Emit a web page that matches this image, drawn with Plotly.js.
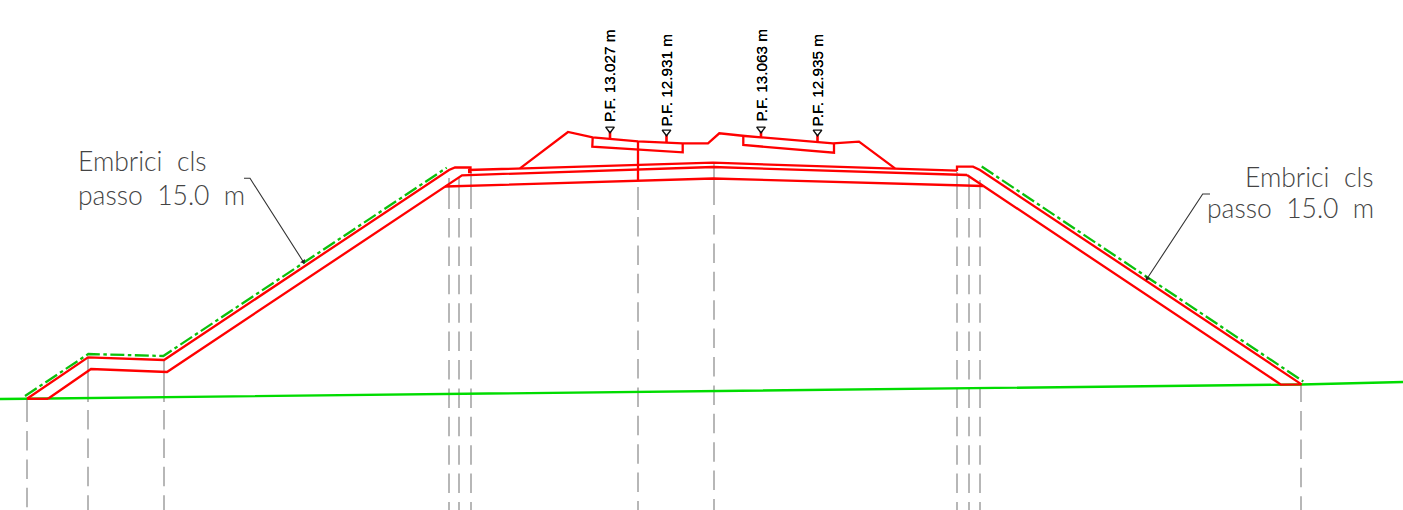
<!DOCTYPE html>
<html>
<head>
<meta charset="utf-8">
<script src="https://cdn.plot.ly/plotly-3.0.1.min.js"></script>
<style>html,body{margin:0;padding:0;background:#fff;overflow:hidden}#c{width:1403px;height:510px}</style>
</head>
<body>
<div id="c"></div>
<script>
// Terrain
const groundX = [0, 27, 1301, 1403];
const groundY = [399, 398.7, 384.5, 382];
// Embankment outer face (top layer)
const outerX = [27, 88, 164, 449, 455, 470.5, 470.5, 468];
const outerY = [398.7, 357.3, 360, 170, 167.5, 167.5, 172, 172];
const outerRX = [957, 957, 973, 980, 1301.5, 1281, 967];
const outerRY = [171, 166.7, 166.7, 170, 384.4, 384.6, 175];
// Inner face and base
const innerX = [48, 91, 167, 462, 713, 967];
const innerY = [398.8, 369, 372, 175.3, 167, 175];
// Road layers
const topLayerX = [468, 713, 957];
const topLayerY = [170, 162.7, 170.7];
const baseLayerX = [445, 713, 983];
const baseLayerY = [186.5, 178.5, 186];
const baseFootX = [27, 48];
const baseFootY = [398.8, 398.8];
// Rail bed profile
const profileX = [520, 568, 592.7, 638, 682.7, 708, 719.3, 745, 833, 859, 895];
const profileY = [168.3, 132, 137.3, 141.3, 143.3, 143.3, 133.3, 136, 143.3, 141.7, 168.3];
// Sleepers
const sleeperLX = [592.7, 592.3, 682.7, 682.7];
const sleeperLY = [137.3, 146.7, 152.3, 143.3];
const sleeperRX = [743.3, 743.3, 834, 834];
const sleeperRY = [136, 145, 152.7, 143.3];
const axisPostX = [638, 638];
const axisPostY = [141.3, 181];
// Dash-dot green edges
const edgeLX = [25, 88.3, 163.3, 446.7];
const edgeLY = [396, 354, 356, 167.7];
const edgeRX = [981.7, 1303.3];
const edgeRY = [166.5, 381.5];
// Vertical guides: x, top of first stroke, end of first stroke, start of dashed run
const guideX = [27, 88, 164, 449, 459, 471, 638, 714, 957, 969, 980, 1301];
const guideTop = [399, 357, 360, 178, 177, 172, 187, 163, 172, 176, 180, 384];
const guideEnd = [422, 402, 402, 209, 209, 209, 210, 205, 209, 209, 209, 402];
const guideRun = [431, 410, 410, 218, 218, 218, 217, 215, 218, 218, 218, 411];
// Rail level labels
const pfText = ["P.F. 13.027 m", "P.F. 12.931 m", "P.F. 13.063 m", "P.F. 12.935 m"];
const pfX = [610, 666.5, 761, 817.5];
const pfTipY = [129, 132, 129, 132];
const pfFootY = [139, 142.7, 137, 141.7];
const pfTextY = [76.5, 80.5, 76, 80.5];
// Callouts
const calloutText = ["Embrici\u00a0\u00a0cls", "passo\u00a0\u00a015.0\u00a0\u00a0m"];
const leaderLX = [244, 250, 303.3];
const leaderLY = [178.3, 178.3, 261.7];
const leaderRX = [1210, 1202.7, 1147.3];
const leaderRY = [194, 194, 278.3];
const leaderTipX = [303.3, 1147.3];
const leaderTipY = [261.7, 278.3];

const RED = '#ff0000', GREEN = '#00dc00', EDGE = '#0cc00c', GREY = '#ababab';
function ln(x, y, color, width, dash) {
  return {x, y, type: 'scatter', mode: 'lines', hoverinfo: 'skip',
    line: {color, width, dash: dash || 'solid', simplify: false}};
}
const traces = [];
guideX.forEach((gx, i) => {
  traces.push(ln([gx, gx], [guideTop[i], guideEnd[i]], GREY, 1.7));
  traces.push(ln([gx, gx], [guideRun[i], 510], GREY, 1.7, '19.5px,8.9px'));
});
traces.push(ln(groundX, groundY, GREEN, 2.4));
traces.push(ln(edgeLX, edgeLY, EDGE, 2.3, '14px,3.5px,3.5px,3.5px'));
traces.push(ln(edgeRX, edgeRY, EDGE, 2.3, '14px,3.5px,3.5px,3.5px'));
[[outerX, outerY], [outerRX, outerRY], [innerX, innerY], [topLayerX, topLayerY],
 [baseLayerX, baseLayerY], [baseFootX, baseFootY], [profileX, profileY],
 [sleeperLX, sleeperLY], [sleeperRX, sleeperRY], [axisPostX, axisPostY]
].forEach(p => traces.push(ln(p[0], p[1], RED, 2.3)));
pfX.forEach((px, i) => traces.push(ln([px, px], [pfTipY[i], pfFootY[i]], RED, 2.6)));
traces.push({x: pfX, y: pfTipY, type: 'scatter', mode: 'markers', hoverinfo: 'skip',
  marker: {symbol: 'triangle-down', size: 7.5, color: '#ffffff', line: {color: '#111', width: 1.4}}});
traces.push(ln(leaderLX, leaderLY, '#333', 1.1));
traces.push(ln(leaderRX, leaderRY, '#333', 1.1));
traces.push({x: leaderTipX, y: leaderTipY, type: 'scatter', mode: 'markers', hoverinfo: 'skip',
  marker: {symbol: 'triangle-up', size: 5, color: '#222', angle: [147, 213]}});

const annotations = pfText.map((t, i) => ({
  text: t, x: pfX[i] - 0.5, y: pfTextY[i], xref: 'x', yref: 'y', showarrow: false, textangle: -90,
  font: {family: 'Liberation Sans, Arial, sans-serif', size: 15.3, color: '#000', shadow: '0 0 0.6px #000'},
  xanchor: 'center', yanchor: 'middle'
}));
const cf = {family: 'Lato, sans-serif', size: 26.5, color: '#444', weight: 300};
[[77, 161, 0, 'left'], [77, 195, 1, 'left'], [1375, 177, 0, 'right'], [1375, 208, 1, 'right']].forEach(c => {
  annotations.push({text: calloutText[c[2]], x: c[0], y: c[1], xref: 'x', yref: 'y', showarrow: false,
    xanchor: c[3], yanchor: 'middle', font: cf, borderpad: 0});
});

const hidden = {visible: false, fixedrange: true};
Plotly.newPlot('c', traces, {
  width: 1403, height: 510, margin: {l: 0, r: 0, t: 0, b: 0},
  paper_bgcolor: '#fff', plot_bgcolor: '#fff', showlegend: false,
  xaxis: Object.assign({range: [0, 1403]}, hidden),
  yaxis: Object.assign({range: [510, 0]}, hidden),
  annotations
}, {displayModeBar: false, staticPlot: true});
</script>
</body>
</html>
